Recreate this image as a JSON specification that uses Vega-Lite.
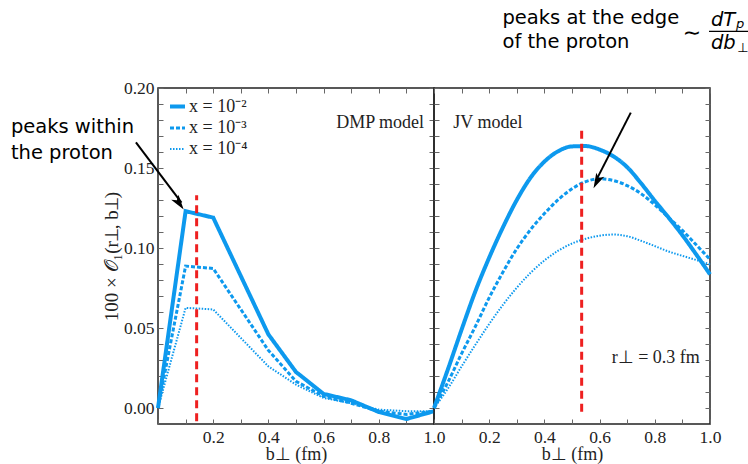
{
  "$schema": "https://vega.github.io/schema/vega-lite/v6.json",
  "padding": {"left": 10, "top": 7, "right": 0, "bottom": 0},
  "background": "white",
  "bounds": "flush",
  "datasets": {
    "curves": [
      {"model": "DMP", "series": "x = 10⁻²", "b": 0.0, "v": 0.0},
      {"model": "DMP", "series": "x = 10⁻²", "b": 0.1, "v": 0.123},
      {"model": "DMP", "series": "x = 10⁻²", "b": 0.2, "v": 0.119},
      {"model": "DMP", "series": "x = 10⁻²", "b": 0.4, "v": 0.046},
      {"model": "DMP", "series": "x = 10⁻²", "b": 0.5, "v": 0.0225},
      {"model": "DMP", "series": "x = 10⁻²", "b": 0.6, "v": 0.0088},
      {"model": "DMP", "series": "x = 10⁻²", "b": 0.7, "v": 0.0048},
      {"model": "DMP", "series": "x = 10⁻²", "b": 0.8, "v": -0.0025},
      {"model": "DMP", "series": "x = 10⁻²", "b": 0.9, "v": -0.0069},
      {"model": "DMP", "series": "x = 10⁻²", "b": 1.0, "v": -0.002},
      {"model": "DMP", "series": "x = 10⁻³", "b": 0.0, "v": 0.0},
      {"model": "DMP", "series": "x = 10⁻³", "b": 0.1, "v": 0.0887},
      {"model": "DMP", "series": "x = 10⁻³", "b": 0.2, "v": 0.0872},
      {"model": "DMP", "series": "x = 10⁻³", "b": 0.4, "v": 0.036},
      {"model": "DMP", "series": "x = 10⁻³", "b": 0.5, "v": 0.0167},
      {"model": "DMP", "series": "x = 10⁻³", "b": 0.6, "v": 0.0073},
      {"model": "DMP", "series": "x = 10⁻³", "b": 0.7, "v": 0.003},
      {"model": "DMP", "series": "x = 10⁻³", "b": 0.8, "v": -0.002},
      {"model": "DMP", "series": "x = 10⁻³", "b": 0.9, "v": -0.004},
      {"model": "DMP", "series": "x = 10⁻³", "b": 1.0, "v": -0.002},
      {"model": "DMP", "series": "x = 10⁻⁴", "b": 0.0, "v": 0.0},
      {"model": "DMP", "series": "x = 10⁻⁴", "b": 0.1, "v": 0.0626},
      {"model": "DMP", "series": "x = 10⁻⁴", "b": 0.2, "v": 0.0616},
      {"model": "DMP", "series": "x = 10⁻⁴", "b": 0.4, "v": 0.026},
      {"model": "DMP", "series": "x = 10⁻⁴", "b": 0.5, "v": 0.0146},
      {"model": "DMP", "series": "x = 10⁻⁴", "b": 0.6, "v": 0.0063},
      {"model": "DMP", "series": "x = 10⁻⁴", "b": 0.7, "v": 0.003},
      {"model": "DMP", "series": "x = 10⁻⁴", "b": 0.8, "v": -0.001},
      {"model": "DMP", "series": "x = 10⁻⁴", "b": 0.9, "v": -0.002},
      {"model": "DMP", "series": "x = 10⁻⁴", "b": 1.0, "v": -0.002},
      {"model": "JV", "series": "x = 10⁻²", "b": 0.0, "v": 0.0},
      {"model": "JV", "series": "x = 10⁻²", "b": 0.05, "v": 0.024},
      {"model": "JV", "series": "x = 10⁻²", "b": 0.1, "v": 0.049},
      {"model": "JV", "series": "x = 10⁻²", "b": 0.15, "v": 0.073},
      {"model": "JV", "series": "x = 10⁻²", "b": 0.2, "v": 0.094},
      {"model": "JV", "series": "x = 10⁻²", "b": 0.25, "v": 0.113},
      {"model": "JV", "series": "x = 10⁻²", "b": 0.3, "v": 0.13},
      {"model": "JV", "series": "x = 10⁻²", "b": 0.35, "v": 0.144},
      {"model": "JV", "series": "x = 10⁻²", "b": 0.4, "v": 0.154},
      {"model": "JV", "series": "x = 10⁻²", "b": 0.45, "v": 0.1605},
      {"model": "JV", "series": "x = 10⁻²", "b": 0.5, "v": 0.1635},
      {"model": "JV", "series": "x = 10⁻²", "b": 0.55, "v": 0.1637},
      {"model": "JV", "series": "x = 10⁻²", "b": 0.6, "v": 0.1615},
      {"model": "JV", "series": "x = 10⁻²", "b": 0.65, "v": 0.1573},
      {"model": "JV", "series": "x = 10⁻²", "b": 0.7, "v": 0.1505},
      {"model": "JV", "series": "x = 10⁻²", "b": 0.75, "v": 0.1405},
      {"model": "JV", "series": "x = 10⁻²", "b": 0.8, "v": 0.1295},
      {"model": "JV", "series": "x = 10⁻²", "b": 0.85, "v": 0.119},
      {"model": "JV", "series": "x = 10⁻²", "b": 0.9, "v": 0.108},
      {"model": "JV", "series": "x = 10⁻²", "b": 0.95, "v": 0.096},
      {"model": "JV", "series": "x = 10⁻²", "b": 1.0, "v": 0.0835},
      {"model": "JV", "series": "x = 10⁻³", "b": 0.0, "v": 0.0},
      {"model": "JV", "series": "x = 10⁻³", "b": 0.05, "v": 0.016},
      {"model": "JV", "series": "x = 10⁻³", "b": 0.1, "v": 0.034},
      {"model": "JV", "series": "x = 10⁻³", "b": 0.15, "v": 0.051},
      {"model": "JV", "series": "x = 10⁻³", "b": 0.2, "v": 0.069},
      {"model": "JV", "series": "x = 10⁻³", "b": 0.25, "v": 0.085},
      {"model": "JV", "series": "x = 10⁻³", "b": 0.3, "v": 0.0995},
      {"model": "JV", "series": "x = 10⁻³", "b": 0.35, "v": 0.1115},
      {"model": "JV", "series": "x = 10⁻³", "b": 0.4, "v": 0.1215},
      {"model": "JV", "series": "x = 10⁻³", "b": 0.45, "v": 0.1302},
      {"model": "JV", "series": "x = 10⁻³", "b": 0.5, "v": 0.137},
      {"model": "JV", "series": "x = 10⁻³", "b": 0.55, "v": 0.1415},
      {"model": "JV", "series": "x = 10⁻³", "b": 0.6, "v": 0.1433},
      {"model": "JV", "series": "x = 10⁻³", "b": 0.65, "v": 0.1422},
      {"model": "JV", "series": "x = 10⁻³", "b": 0.7, "v": 0.139},
      {"model": "JV", "series": "x = 10⁻³", "b": 0.75, "v": 0.134},
      {"model": "JV", "series": "x = 10⁻³", "b": 0.8, "v": 0.127},
      {"model": "JV", "series": "x = 10⁻³", "b": 0.85, "v": 0.119},
      {"model": "JV", "series": "x = 10⁻³", "b": 0.9, "v": 0.111},
      {"model": "JV", "series": "x = 10⁻³", "b": 0.95, "v": 0.102},
      {"model": "JV", "series": "x = 10⁻³", "b": 1.0, "v": 0.0929},
      {"model": "JV", "series": "x = 10⁻⁴", "b": 0.0, "v": 0.0},
      {"model": "JV", "series": "x = 10⁻⁴", "b": 0.05, "v": 0.012},
      {"model": "JV", "series": "x = 10⁻⁴", "b": 0.1, "v": 0.026},
      {"model": "JV", "series": "x = 10⁻⁴", "b": 0.15, "v": 0.0395},
      {"model": "JV", "series": "x = 10⁻⁴", "b": 0.2, "v": 0.0525},
      {"model": "JV", "series": "x = 10⁻⁴", "b": 0.25, "v": 0.0645},
      {"model": "JV", "series": "x = 10⁻⁴", "b": 0.3, "v": 0.0752},
      {"model": "JV", "series": "x = 10⁻⁴", "b": 0.35, "v": 0.0845},
      {"model": "JV", "series": "x = 10⁻⁴", "b": 0.4, "v": 0.0922},
      {"model": "JV", "series": "x = 10⁻⁴", "b": 0.45, "v": 0.0983},
      {"model": "JV", "series": "x = 10⁻⁴", "b": 0.5, "v": 0.1028},
      {"model": "JV", "series": "x = 10⁻⁴", "b": 0.55, "v": 0.1058},
      {"model": "JV", "series": "x = 10⁻⁴", "b": 0.6, "v": 0.1077},
      {"model": "JV", "series": "x = 10⁻⁴", "b": 0.65, "v": 0.1084},
      {"model": "JV", "series": "x = 10⁻⁴", "b": 0.7, "v": 0.1074},
      {"model": "JV", "series": "x = 10⁻⁴", "b": 0.75, "v": 0.1045},
      {"model": "JV", "series": "x = 10⁻⁴", "b": 0.8, "v": 0.1012},
      {"model": "JV", "series": "x = 10⁻⁴", "b": 0.85, "v": 0.0978},
      {"model": "JV", "series": "x = 10⁻⁴", "b": 0.9, "v": 0.0951},
      {"model": "JV", "series": "x = 10⁻⁴", "b": 0.95, "v": 0.0925},
      {"model": "JV", "series": "x = 10⁻⁴", "b": 1.0, "v": 0.0897}
    ],
    "one": [{}]
  },
  "config": {
    "view": {"stroke": "#222", "strokeWidth": 1.5},
    "concat": {"spacing": 0},
    "axis": {
      "labelFont": "Liberation Serif", "labelFontSize": 17.5, "labelColor": "#222",
      "titleFont": "Liberation Serif", "titleFontSize": 18, "titleFontWeight": "normal", "titleColor": "#222",
      "domain": false, "grid": false, "tickColor": "#666", "tickSize": -5, "tickWidth": 1,
      "labelPadding": 9, "labelOverlap": false, "labelFlush": false, "labelBound": false
    },
    "legend": {
      "labelFont": "Liberation Serif", "labelFontSize": 18, "labelColor": "#222"
    }
  },
  "spacing": 0,
  "hconcat": [
    {
      "width": 276,
      "height": 336,
      "layer": [
        {
          "data": {"name": "curves"},
          "transform": [{"filter": "datum.model == 'DMP'"}],
          "mark": {"type": "line", "color": "#0d99ee"},
          "encoding": {
            "x": {"field": "b", "type": "quantitative", "scale": {"domain": [0, 1], "nice": false, "zero": false},
              "axis": {"orient": "bottom", "title": "b⊥ (fm)", "titlePadding": 0, "values": [0, 0.1, 0.2, 0.3, 0.4, 0.5, 0.6, 0.7, 0.8, 0.9, 1.0],
                "labelExpr": "datum.value > 0.1 && round(datum.value*10) % 2 == 0 ? format(datum.value, '.1f') : ''"}},
            "y": {"field": "v", "type": "quantitative", "scale": {"domain": [-0.01, 0.2], "nice": false, "zero": false},
              "axis": {"orient": "left", "title": "100 × 𝒪₁(r⊥, b⊥)", "titlePadding": 2, "titleFontSize": 19, "values": [0, 0.01, 0.02, 0.03, 0.04, 0.05, 0.06, 0.07, 0.08, 0.09, 0.1, 0.11, 0.12, 0.13, 0.14, 0.15, 0.16, 0.17, 0.18, 0.19, 0.2],
                "labelExpr": "round(datum.value*100) % 5 == 0 ? format(datum.value, '.2f') : ''"}},
            "strokeDash": {"field": "series", "type": "nominal",
              "scale": {"domain": ["x = 10⁻²", "x = 10⁻³", "x = 10⁻⁴"], "range": [[1, 0], [4, 2], [1.5, 1.5]]},
              "legend": {"title": null, "orient": "none", "legendX": 10, "legendY": 9, "symbolType": "stroke", "symbolSize": 225, "symbolStrokeColor": "#0d99ee", "rowPadding": 3, "padding": 0, "labelOffset": 2}},
            "strokeWidth": {"field": "series", "type": "nominal",
              "scale": {"domain": ["x = 10⁻²", "x = 10⁻³", "x = 10⁻⁴"], "range": [4, 2, 2]},
              "legend": {"title": null, "orient": "none", "legendX": 10, "legendY": 9, "symbolType": "stroke", "symbolSize": 225, "symbolStrokeColor": "#0d99ee", "rowPadding": 3, "padding": 0, "labelOffset": 2}}
          }
        },
        {
          "data": {"name": "one"},
          "mark": {"type": "point", "opacity": 0},
          "encoding": {
            "x": {"datum": 0.5, "type": "quantitative", "axis": {"orient": "top", "title": null, "labels": false, "values": [0, 0.1, 0.2, 0.3, 0.4, 0.5, 0.6, 0.7, 0.8, 0.9, 1.0]}},
            "y": {"datum": 0.1, "type": "quantitative", "axis": {"orient": "right", "title": null, "labels": false, "values": [0, 0.01, 0.02, 0.03, 0.04, 0.05, 0.06, 0.07, 0.08, 0.09, 0.1, 0.11, 0.12, 0.13, 0.14, 0.15, 0.16, 0.17, 0.18, 0.19, 0.2]}}
          }
        },
        {
          "data": {"name": "one"},
          "mark": {"type": "rule", "color": "#ee2020", "strokeWidth": 3, "strokeDash": [8, 5]},
          "encoding": {
            "x": {"datum": 0.14, "type": "quantitative", "axis": null},
            "y": {"datum": -0.0083, "type": "quantitative", "axis": null},
            "y2": {"datum": 0.133}
          }
        },
        {
          "data": {"name": "one"},
          "mark": {"type": "text", "align": "right", "baseline": "middle", "font": "Liberation Serif", "fontSize": 18, "color": "#222"},
          "encoding": {
            "x": {"datum": 0.964, "type": "quantitative", "axis": null},
            "y": {"datum": 0.1782, "type": "quantitative", "axis": null},
            "text": {"value": "DMP model"}
          }
        },
        {
          "data": {"name": "one"},
          "mark": {"type": "rule", "color": "black", "strokeWidth": 2},
          "encoding": {
            "x": {"datum": -0.08, "type": "quantitative", "axis": null},
            "y": {"datum": 0.166, "type": "quantitative", "axis": null},
            "x2": {"datum": 0.085},
            "y2": {"datum": 0.1283}
          }
        },
        {
          "data": {"name": "one"},
          "mark": {"type": "point", "shape": "M0,0L0.5,1.7L0,1.3L-0.5,1.7Z", "filled": true, "color": "black", "opacity": 1, "size": 320, "angle": 144.4},
          "encoding": {
            "x": {"datum": 0.093, "type": "quantitative", "axis": null},
            "y": {"datum": 0.124, "type": "quantitative", "axis": null}
          }
        },
        {
          "data": {"name": "one"},
          "mark": {"type": "text", "align": "left", "baseline": "alphabetic", "font": "DejaVu Sans", "fontSize": 19.5, "lineHeight": 26, "color": "black"},
          "encoding": {
            "x": {"datum": -0.533, "type": "quantitative", "axis": null},
            "y": {"datum": 0.1719, "type": "quantitative", "axis": null},
            "text": {"value": ["peaks within", "the proton"]}
          }
        }
      ]
    },
    {
      "width": 276,
      "height": 336,
      "layer": [
        {
          "data": {"name": "curves"},
          "transform": [{"filter": "datum.model == 'JV'"}],
          "mark": {"type": "line", "color": "#0d99ee", "interpolate": "monotone"},
          "encoding": {
            "x": {"field": "b", "type": "quantitative", "scale": {"domain": [0, 1], "nice": false, "zero": false},
              "axis": {"orient": "bottom", "title": "b⊥ (fm)", "titlePadding": 0, "values": [0, 0.1, 0.2, 0.3, 0.4, 0.5, 0.6, 0.7, 0.8, 0.9, 1.0],
                "labelExpr": "datum.value > 0.1 && round(datum.value*10) % 2 == 0 ? format(datum.value, '.1f') : ''"}},
            "y": {"field": "v", "type": "quantitative", "scale": {"domain": [-0.01, 0.2], "nice": false, "zero": false},
              "axis": {"orient": "left", "title": null, "labels": false, "values": [0, 0.01, 0.02, 0.03, 0.04, 0.05, 0.06, 0.07, 0.08, 0.09, 0.1, 0.11, 0.12, 0.13, 0.14, 0.15, 0.16, 0.17, 0.18, 0.19, 0.2]}},
            "strokeDash": {"field": "series", "type": "nominal",
              "scale": {"domain": ["x = 10⁻²", "x = 10⁻³", "x = 10⁻⁴"], "range": [[1, 0], [4, 2], [1.5, 1.5]]},
              "legend": {"title": null, "orient": "none", "legendX": 10, "legendY": 9, "symbolType": "stroke", "symbolSize": 225, "symbolStrokeColor": "#0d99ee", "rowPadding": 3, "padding": 0, "labelOffset": 2}},
            "strokeWidth": {"field": "series", "type": "nominal",
              "scale": {"domain": ["x = 10⁻²", "x = 10⁻³", "x = 10⁻⁴"], "range": [4, 2, 2]},
              "legend": {"title": null, "orient": "none", "legendX": 10, "legendY": 9, "symbolType": "stroke", "symbolSize": 225, "symbolStrokeColor": "#0d99ee", "rowPadding": 3, "padding": 0, "labelOffset": 2}}
          }
        },
        {
          "data": {"name": "one"},
          "mark": {"type": "point", "opacity": 0},
          "encoding": {
            "x": {"datum": 0.5, "type": "quantitative", "axis": {"orient": "top", "title": null, "labels": false, "values": [0, 0.1, 0.2, 0.3, 0.4, 0.5, 0.6, 0.7, 0.8, 0.9, 1.0]}},
            "y": {"datum": 0.1, "type": "quantitative", "axis": {"orient": "right", "title": null, "labels": false, "values": [0, 0.01, 0.02, 0.03, 0.04, 0.05, 0.06, 0.07, 0.08, 0.09, 0.1, 0.11, 0.12, 0.13, 0.14, 0.15, 0.16, 0.17, 0.18, 0.19, 0.2]}}
          }
        },
        {
          "data": {"name": "one"},
          "mark": {"type": "rule", "color": "#ee2020", "strokeWidth": 3, "strokeDash": [8, 5]},
          "encoding": {
            "x": {"datum": 0.535, "type": "quantitative", "axis": null},
            "y": {"datum": -0.0024, "type": "quantitative", "axis": null},
            "y2": {"datum": 0.176}
          }
        },
        {
          "data": {"name": "one"},
          "mark": {"type": "text", "align": "left", "baseline": "middle", "font": "Liberation Serif", "fontSize": 18, "color": "#222"},
          "encoding": {
            "x": {"datum": 0.07, "type": "quantitative", "axis": null},
            "y": {"datum": 0.1782, "type": "quantitative", "axis": null},
            "text": {"value": "JV model"}
          }
        },
        {
          "data": {"name": "one"},
          "mark": {"type": "text", "align": "right", "baseline": "middle", "font": "Liberation Serif", "fontSize": 18, "color": "#222"},
          "encoding": {
            "x": {"datum": 0.963, "type": "quantitative", "axis": null},
            "y": {"datum": 0.031, "type": "quantitative", "axis": null},
            "text": {"value": "r⊥ = 0.3 fm"}
          }
        },
        {
          "data": {"name": "one"},
          "mark": {"type": "rule", "color": "black", "strokeWidth": 2},
          "encoding": {
            "x": {"datum": 0.713, "type": "quantitative", "axis": null},
            "y": {"datum": 0.1846, "type": "quantitative", "axis": null},
            "x2": {"datum": 0.586},
            "y2": {"datum": 0.1418}
          }
        },
        {
          "data": {"name": "one"},
          "mark": {"type": "point", "shape": "M0,0L0.5,1.7L0,1.3L-0.5,1.7Z", "filled": true, "color": "black", "opacity": 1, "size": 320, "angle": 206.3},
          "encoding": {
            "x": {"datum": 0.578, "type": "quantitative", "axis": null},
            "y": {"datum": 0.1373, "type": "quantitative", "axis": null}
          }
        },
        {
          "data": {"name": "one"},
          "mark": {"type": "text", "align": "left", "baseline": "alphabetic", "font": "DejaVu Sans", "fontSize": 19.5, "lineHeight": 24.5, "color": "black"},
          "encoding": {
            "x": {"datum": 0.248, "type": "quantitative", "axis": null},
            "y": {"datum": 0.2401, "type": "quantitative", "axis": null},
            "text": {"value": ["peaks at the edge", "of the proton"]}
          }
        },
        {
          "data": {"name": "one"},
          "mark": {"type": "text", "align": "center", "baseline": "middle", "font": "DejaVu Sans", "fontSize": 22, "color": "black"},
          "encoding": {
            "x": {"datum": 0.9346, "type": "quantitative", "axis": null},
            "y": {"datum": 0.2345, "type": "quantitative", "axis": null},
            "text": {"value": "∼"}
          }
        },
        {
          "data": {"name": "one"},
          "mark": {"type": "rule", "color": "black", "strokeWidth": 1.2},
          "encoding": {
            "x": {"datum": 0.9964, "type": "quantitative", "axis": null},
            "y": {"datum": 0.2354, "type": "quantitative", "axis": null},
            "x2": {"datum": 1.1417}
          }
        },
        {
          "data": {"name": "one"},
          "mark": {"type": "text", "align": "left", "baseline": "alphabetic", "font": "DejaVu Sans", "fontStyle": "italic", "fontSize": 19.5, "color": "black"},
          "encoding": {
            "x": {"datum": 1.0036, "type": "quantitative", "axis": null},
            "y": {"datum": 0.2389, "type": "quantitative", "axis": null},
            "text": {"value": "dT"}
          }
        },
        {
          "data": {"name": "one"},
          "mark": {"type": "text", "align": "left", "baseline": "alphabetic", "font": "DejaVu Sans", "fontStyle": "italic", "fontSize": 13, "color": "black"},
          "encoding": {
            "x": {"datum": 1.094, "type": "quantitative", "axis": null},
            "y": {"datum": 0.2372, "type": "quantitative", "axis": null},
            "text": {"value": "p"}
          }
        },
        {
          "data": {"name": "one"},
          "mark": {"type": "text", "align": "left", "baseline": "alphabetic", "font": "DejaVu Sans", "fontStyle": "italic", "fontSize": 19.5, "color": "black"},
          "encoding": {
            "x": {"datum": 1.0036, "type": "quantitative", "axis": null},
            "y": {"datum": 0.2245, "type": "quantitative", "axis": null},
            "text": {"value": "db"}
          }
        },
        {
          "data": {"name": "one"},
          "mark": {"type": "text", "align": "left", "baseline": "alphabetic", "font": "DejaVu Sans", "fontSize": 13, "color": "black"},
          "encoding": {
            "x": {"datum": 1.0985, "type": "quantitative", "axis": null},
            "y": {"datum": 0.2226, "type": "quantitative", "axis": null},
            "text": {"value": "⊥"}
          }
        }
      ]
    }
  ]
}
